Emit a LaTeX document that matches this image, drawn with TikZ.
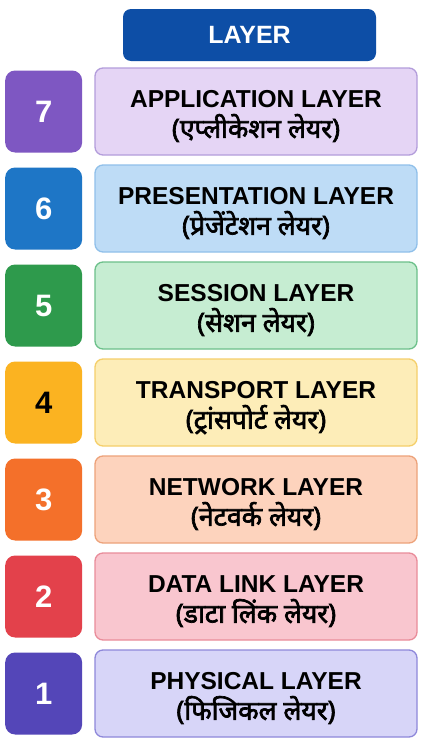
\documentclass[tikz,border=0pt]{standalone}
\usepackage{xcolor}
\usepackage{fontspec}
\setmainfont{Liberation Sans}
\newfontfamily\hindi[Script=Devanagari, AutoFakeBold=2.5]{Noto Sans}
% title line + Hindi line of one layer box
\newcommand\layertext[2]{\rule{0pt}{31pt}#1\\{\hindi\fontsize{26.5}{30}\selectfont #2\rule[-9pt]{0pt}{9pt}}}
\usepackage{tikz}
\usetikzlibrary{positioning}

\definecolor{headblue}{HTML}{0D4EA6}
\definecolor{numseven}{HTML}{7E57C2}
\definecolor{fillseven}{HTML}{E5D5F5}
\definecolor{lineseven}{HTML}{B39DDB}
\definecolor{numsix}{HTML}{1E76C6}
\definecolor{fillsix}{HTML}{BEDCF6}
\definecolor{linesix}{HTML}{90C0EA}
\definecolor{numfive}{HTML}{2E9A4C}
\definecolor{fillfive}{HTML}{C6EDD2}
\definecolor{linefive}{HTML}{6CC08A}
\definecolor{numfour}{HTML}{FBB321}
\definecolor{fillfour}{HTML}{FDEDB8}
\definecolor{linefour}{HTML}{F5CF6A}
\definecolor{numthree}{HTML}{F4702A}
\definecolor{fillthree}{HTML}{FDD3BD}
\definecolor{linethree}{HTML}{EDA27A}
\definecolor{numtwo}{HTML}{E3414B}
\definecolor{filltwo}{HTML}{F9C6CF}
\definecolor{linetwo}{HTML}{E98C9A}
\definecolor{numone}{HTML}{5446B8}
\definecolor{fillone}{HTML}{D7D5F8}
\definecolor{lineone}{HTML}{8E88DA}

\begin{document}
\begin{tikzpicture}[
    x=1pt, y=1pt,
    node distance=8.7pt and 12pt,
    header/.style={
        rectangle,
        rounded corners=8pt,
        fill=headblue,
        text=white,
        minimum width=253pt,
        minimum height=52pt,
        font=\bfseries\fontsize{25}{30}\selectfont
    },
    layer/.style={
        rectangle,
        rounded corners=8pt,
        line width=1.3pt,
        minimum width=322pt,
        minimum height=87pt,
        inner sep=0pt,
        align=center,
        font=\bfseries\fontsize{24.5}{30.5}\selectfont
    },
    num/.style={
        rectangle,
        rounded corners=10pt,
        minimum width=77pt,
        minimum height=82pt,
        text=white,
        font=\bfseries\fontsize{31}{31}\selectfont
    }
]
\useasboundingbox[fill=white] (0,0) rectangle (424,-742);

% Header
\node[header] (head) at (249.5,-35) {LAYER};

% Layers
\node[layer, draw=lineseven, fill=fillseven] (app) at (256,-111.5) {\layertext{APPLICATION LAYER}{(एप्लीकेशन लेयर)}};
\node[layer, draw=linesix, fill=fillsix, below=of app] (pres) {\layertext{PRESENTATION LAYER}{(प्रेजेंटेशन लेयर)}};
\node[layer, draw=linefive, fill=fillfive, below=of pres] (sess) {\layertext{SESSION LAYER}{(सेशन लेयर)}};
\node[layer, draw=linefour, fill=fillfour, below=of sess] (trans) {\layertext{TRANSPORT LAYER}{(ट्रांसपोर्ट लेयर)}};
\node[layer, draw=linethree, fill=fillthree, below=of trans] (net) {\layertext{NETWORK LAYER}{(नेटवर्क लेयर)}};
\node[layer, draw=linetwo, fill=filltwo, below=of net] (link) {\layertext{DATA LINK LAYER}{(डाटा लिंक लेयर)}};
\node[layer, draw=lineone, fill=fillone, below=of link] (phys) {\layertext{PHYSICAL LAYER}{(फिजिकल लेयर)}};

% Numbers
\node[num, fill=numseven, left=of app] (n7) {7};
\node[num, fill=numsix, left=of pres] (n6) {6};
\node[num, fill=numfive, left=of sess] (n5) {5};
\node[num, fill=numfour, text=black, left=of trans] (n4) {4};
\node[num, fill=numthree, left=of net] (n3) {3};
\node[num, fill=numtwo, left=of link] (n2) {2};
\node[num, fill=numone, left=of phys] (n1) {1};
\end{tikzpicture}
\end{document}
